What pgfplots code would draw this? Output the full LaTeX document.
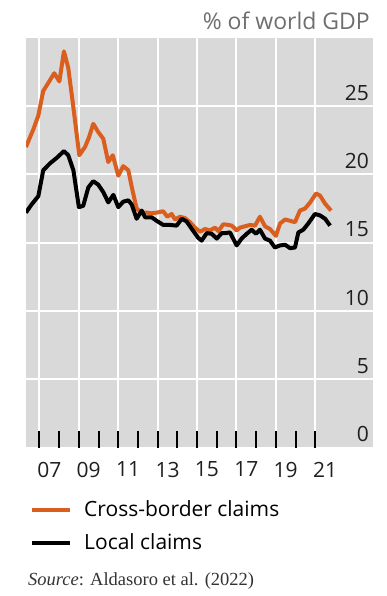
\documentclass[border=0pt]{standalone}
\usepackage{pgfplots}
\pgfplotsset{compat=1.18}
\usepackage{fontspec}
\setmainfont{Open Sans}
\newfontfamily\srcfont{Liberation Serif}
\definecolor{bisorange}{HTML}{DA5F1F}
\definecolor{bgray}{HTML}{D9D9D9}
\definecolor{titlegray}{HTML}{6E6E6E}
\begin{document}
\begin{tikzpicture}
\path[use as bounding box] (-26pt,-148.3pt) rectangle (361pt,447.7pt);
\begin{axis}[
  at={(0pt,0pt)}, anchor=south west,
  scale only axis, width=347pt, height=410pt,
  xmin=2006.315, xmax=2023.93, ymin=0, ymax=30,
  axis line style={draw=none},
  axis background/.style={fill=bgray},
  xtick={2007,2009,...,2021},
  minor xtick={2008,2010,...,2020},
  xticklabels={07,09,11,13,15,17,19,21},
  xtick pos=bottom,
  tick align=inside,
  major tick length=17pt, minor tick length=17pt,
  xtick style={black, line width=2pt},
  ytick={0,5,...,25}, yticklabels={0,5,10,15,20,25},
  yticklabel pos=right,
  ytick style={draw=none},
  xmajorgrids, ymajorgrids,
  major grid style={white, line width=2pt},
  /pgf/number format/assume math mode=true,
  tick label style={font=\fontsize{21}{25}\selectfont, text=black!88},
  xticklabel style={anchor=north, inner sep=0pt, yshift=-14pt, xshift=9.85pt},
  yticklabel style={anchor=base east, inner sep=0pt, xshift=-4pt, yshift=6pt},
  legend cell align=left,
  legend style={at={(0.0115,-0.1276)}, anchor=north west, draw=none, fill=none,
    inner sep=0pt, row sep=13pt, column sep=12pt,
    font=\fontsize{21}{25}\selectfont,
    nodes={inner sep=0pt, text height=16pt, text depth=4pt}},
  legend image code/.code={\draw[#1, line width=4pt] (0pt,0pt) -- (38pt,0pt);},
]
\addplot[bisorange, line width=4pt, line join=round] coordinates {
(2006.31,22.0) (2006.69,23.3) (2006.94,24.3) (2007.19,26.1) (2007.45,26.7)
(2007.75,27.4) (2008.01,26.8) (2008.24,29.0) (2008.46,27.8) (2008.72,24.9)
(2009.02,21.4) (2009.31,22.0) (2009.51,22.7) (2009.73,23.7) (2009.98,23.1)
(2010.24,22.6) (2010.49,20.9) (2010.72,21.4) (2011.0,19.9) (2011.25,20.6)
(2011.51,20.3) (2011.68,19.1) (2011.93,17.5) (2012.19,17.2) (2012.45,17.2)
(2012.70,17.15) (2012.95,17.2) (2013.28,17.3) (2013.49,16.9) (2013.71,17.1)
(2013.88,16.7) (2014.13,16.9) (2014.39,16.8) (2014.64,16.5) (2014.89,16.1)
(2015.15,15.8) (2015.40,16.0) (2015.65,15.9) (2015.91,16.1) (2016.08,15.85)
(2016.33,16.35) (2016.58,16.3) (2016.76,16.25) (2017.01,15.9) (2017.18,16.1)
(2017.43,16.2) (2017.69,16.3) (2017.94,16.25) (2018.19,16.9) (2018.45,16.2)
(2018.70,16.0) (2019.0,15.5) (2019.21,16.4) (2019.47,16.7) (2019.72,16.6)
(2019.97,16.5) (2020.22,17.35) (2020.48,17.5) (2020.74,17.95) (2021.04,18.6)
(2021.24,18.45) (2021.50,17.85) (2021.80,17.35)
};
\addlegendentry{Cross-border claims}
\addplot[black, line width=4pt, line join=round] coordinates {
(2006.31,17.2) (2006.60,17.8) (2006.94,18.4) (2007.19,20.3) (2007.53,20.8)
(2007.87,21.2) (2008.24,21.7) (2008.46,21.4) (2008.72,20.3) (2009.0,17.6)
(2009.22,17.7) (2009.48,19.05) (2009.73,19.5) (2009.98,19.25) (2010.24,18.7)
(2010.49,17.95) (2010.75,18.5) (2011.0,17.6) (2011.25,18.0) (2011.51,18.1)
(2011.68,17.8) (2011.93,16.75) (2012.19,17.35) (2012.36,16.85) (2012.70,16.85)
(2012.95,16.6) (2013.28,16.3) (2013.62,16.3) (2013.96,16.25) (2014.22,16.75)
(2014.47,16.55) (2014.81,15.85) (2015.06,15.35) (2015.23,15.15) (2015.49,15.7)
(2015.74,15.65) (2016.0,15.3) (2016.25,15.7) (2016.42,15.7) (2016.67,15.75)
(2017.01,14.8) (2017.26,15.3) (2017.52,15.65) (2017.77,15.95) (2017.99,15.65)
(2018.19,15.95) (2018.45,15.3) (2018.70,15.15) (2018.95,14.65) (2019.21,14.8)
(2019.47,14.85) (2019.72,14.6) (2019.97,14.65) (2020.14,15.75) (2020.39,15.95)
(2020.64,16.4) (2020.98,17.1) (2021.24,17.0) (2021.50,16.75) (2021.75,16.25)
};
\addlegendentry{Local claims}
\end{axis}
\node[anchor=base east, inner sep=0pt, font=\fontsize{23}{27}\selectfont, text=titlegray] at (344pt,417.7pt) {\% of world GDP};
\node[anchor=base west, inner sep=0pt, font=\srcfont\fontsize{18.5}{22}\selectfont, text=black!80] at (2pt,-137.3pt) {\textit{Source}: Aldasoro et al. (2022)};
\end{tikzpicture}
\end{document}
